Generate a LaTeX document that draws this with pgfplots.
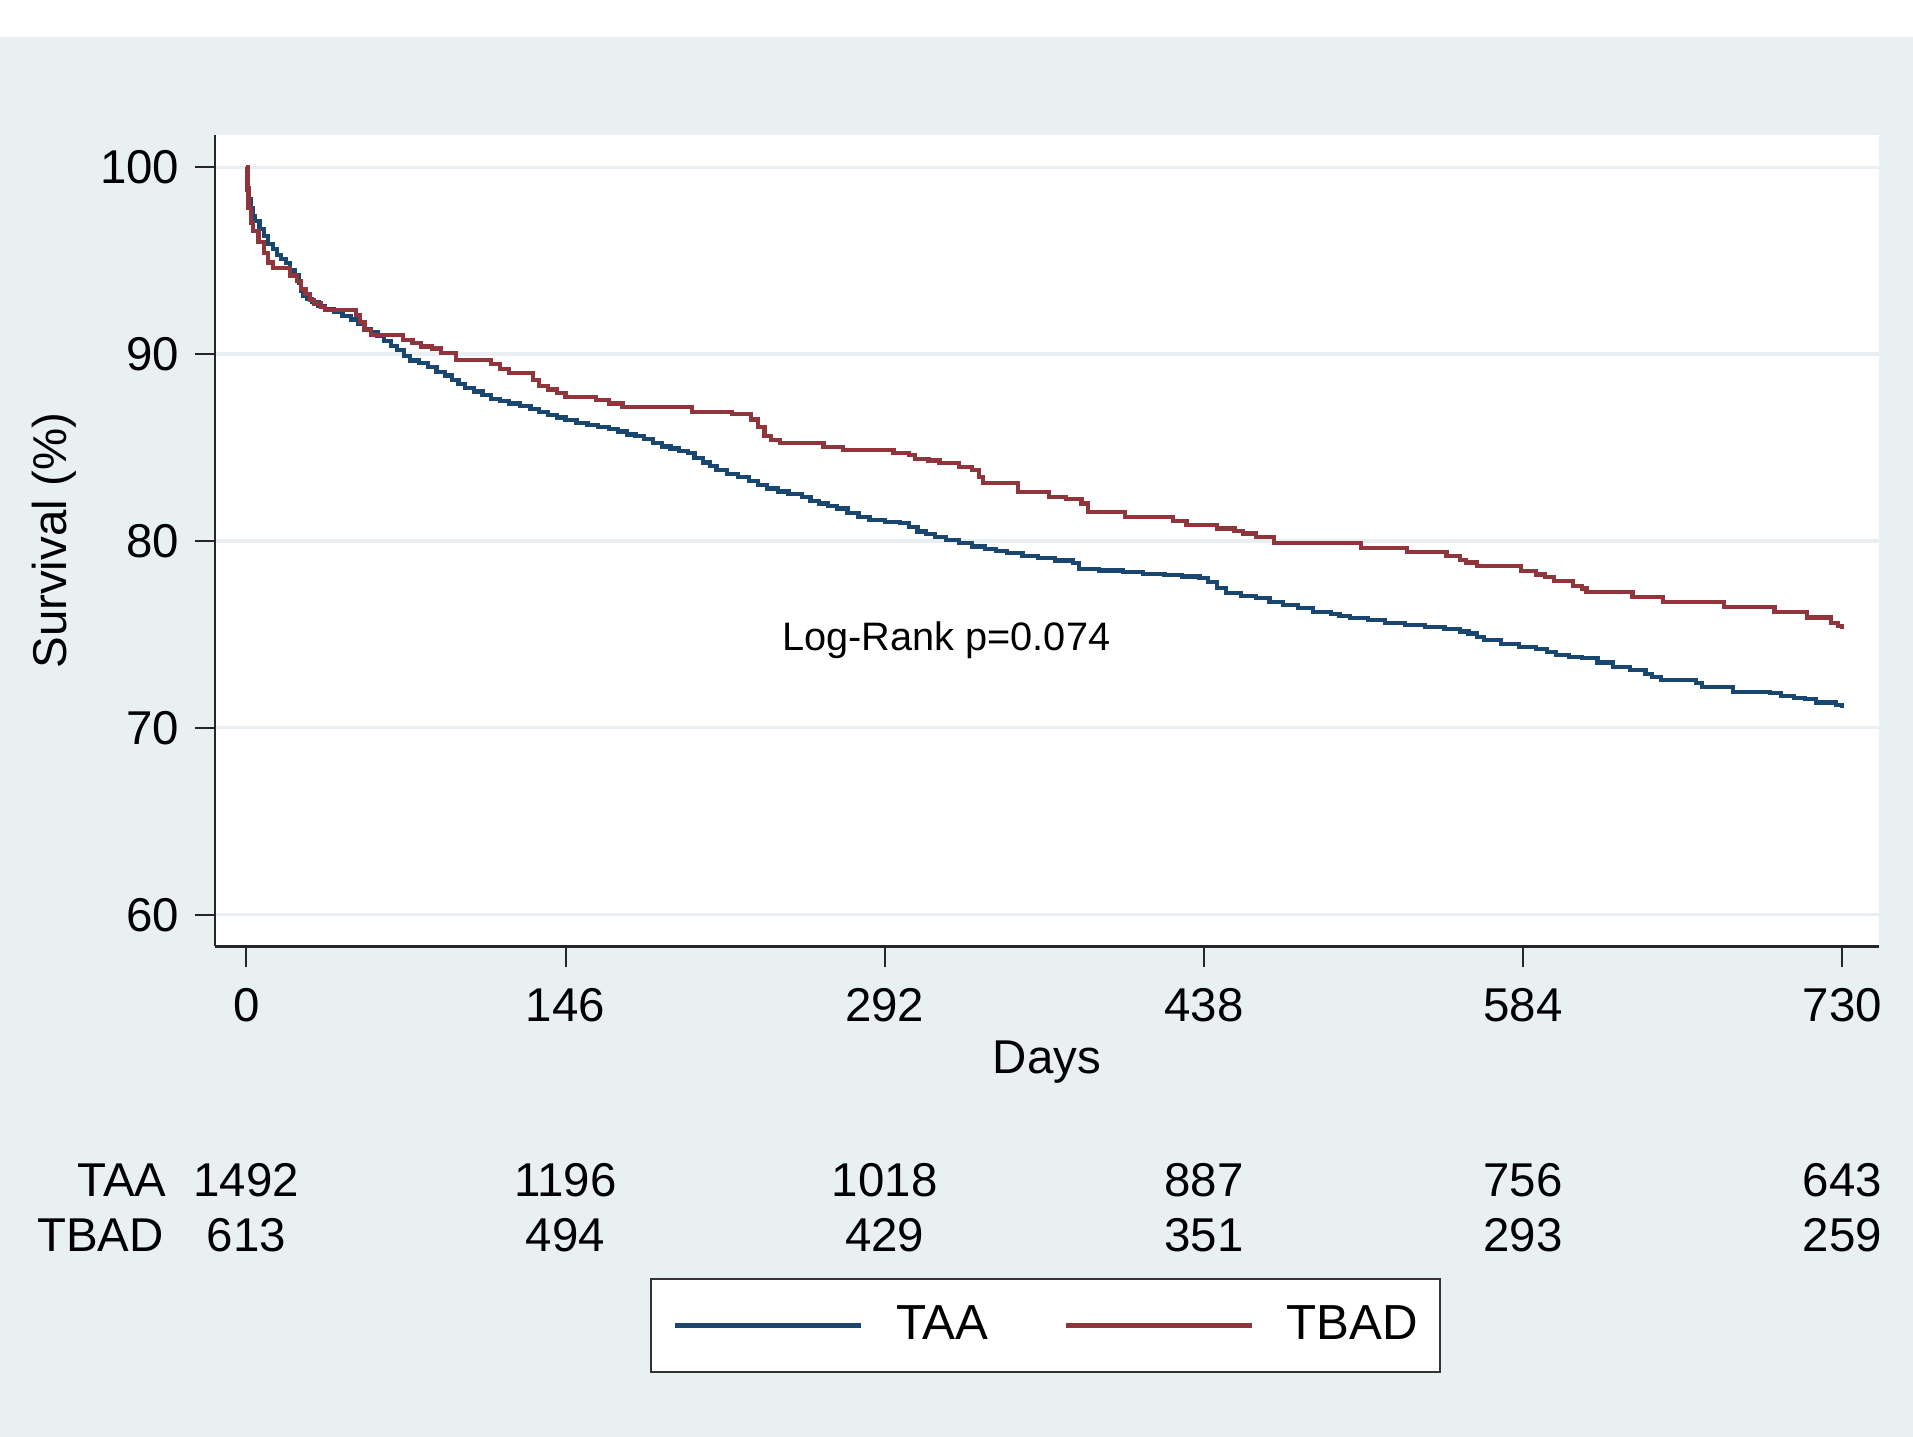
\documentclass[border=0pt]{standalone}
\usepackage{fontspec}
\setmainfont{Liberation Sans}
\usepackage{pgfplots}
\pgfplotsset{compat=1.18}
\usepackage{pgfplotstable}
\definecolor{bgcol}{RGB}{232,240,242}
\definecolor{taablue}{RGB}{26,71,111}
\definecolor{tbadred}{RGB}{144,53,59}
\definecolor{gridcol}{RGB}{232,238,241}

\pgfplotstableread{
day surv
0 100
0.5 98.9
1 98.3
2 97.8
3 97.4
4 97.1
6 96.7
8 96.3
10 95.9
12 95.6
14 95.3
16 95.1
18 94.85
20 94.5
22 94.2
24 93.8
25 93.4
26 93.1
28 92.95
30 92.8
33 92.55
36 92.4
40 92.25
44 92.05
48 91.85
51 91.6
54 91.35
57 91.15
60 90.95
63 90.7
66 90.45
69 90.2
72 89.9
75 89.65
79 89.5
83 89.3
87 89.05
91 88.85
94 88.6
97 88.4
100 88.2
104 88.0
108 87.8
112 87.6
116 87.5
120 87.35
125 87.2
130 87.05
134 86.9
138 86.75
142 86.6
146 86.45
151 86.3
156 86.2
161 86.1
166 86.0
170 85.85
174 85.7
178 85.6
182 85.45
186 85.25
190 85.05
194 84.95
198 84.8
202 84.7
205 84.42
209 84.2
212 84.0
215 83.8
220 83.6
225 83.44
230 83.2
234 83.0
238 82.8
243 82.65
248 82.5
254 82.35
258 82.15
262 82.0
266 81.85
270 81.74
275 81.5
280 81.3
285 81.1
292 81.0
299 80.94
303 80.75
307 80.5
311 80.35
315 80.2
320 80.05
326 79.9
332 79.7
338 79.55
343 79.45
348 79.34
355 79.2
362 79.07
370 78.95
378 78.8
381 78.5
390 78.42
401 78.35
410 78.25
420 78.18
428 78.1
436 78.0
440 77.8
444 77.5
448 77.2
455 77.05
462 76.93
468 76.75
474 76.57
481 76.4
488 76.2
496 76.1
500 76.0
505 75.86
513 75.75
521 75.62
530 75.5
539 75.41
548 75.3
555 75.15
559 75.05
563 74.85
566 74.7
574 74.5
582 74.34
590 74.2
595 74.05
599 73.9
605 73.8
611 73.72
618 73.5
625 73.24
633 73.1
640 72.9
643 72.7
647 72.56
663 72.4
666 72.2
680 71.93
697 71.85
702 71.7
708 71.6
713 71.53
718 71.35
727 71.22
730 71.04
}\taa

\pgfplotstableread{
day surv
0 100
0.5 98.8
1 97.8
2 97.0
3 96.6
5.5 96.0
8 95.4
10 94.9
12 94.6
20 94.2
23 93.9
25 93.5
27 93.2
29 92.9
31 92.7
34 92.5
36 92.35
50 92.1
52 91.7
54 91.3
57 91.0
71.5 90.75
76 90.6
80 90.4
85 90.3
89 90.05
96 89.7
112 89.45
116 89.2
120 88.97
131 88.6
134 88.3
138 88.1
142 87.9
146 87.7
160 87.54
166 87.35
172 87.18
204 86.9
222 86.79
231 86.5
234 86.1
237 85.6
240 85.4
244 85.25
264 85.04
273 84.86
296 84.72
303 84.6
306 84.4
312 84.3
317 84.15
326 83.95
332 83.8
335 83.4
337 83.08
353 82.63
367 82.36
375 82.25
382 82.0
385 81.56
402 81.3
424 81.08
430 80.85
444 80.67
452 80.55
456 80.4
462 80.2
470 79.9
510 79.64
531 79.42
549 79.19
555 79.0
558 78.85
563 78.66
583 78.41
590 78.2
594 78.05
598 77.87
607 77.6
611 77.45
613 77.28
634 77.0
648 76.75
676 76.48
699 76.18
714 75.9
725 75.6
728 75.45
730 75.3
}\tbad

\begin{document}
\begin{tikzpicture}
\path[use as bounding box] (0,0) rectangle (191.3mm,143.7mm);
\fill[bgcol] (0,0) rectangle (191.3mm,140.0mm);
\fill[white] (0,140.0mm) rectangle (191.3mm,143.7mm);
\begin{axis}[
  at={(21.5mm,49.05mm)}, anchor=south west,
  scale only axis, width=166.4mm, height=81.15mm,
  xmin=-14.36, xmax=746.8, ymin=58.30, ymax=101.72,
  axis x line*=bottom, axis y line*=left,
  axis line style={-, black!85, line width=0.6pt},
  axis background/.style={fill=white},
  clip=false,
  xtick={0,146,292,438,584,730},
  xticklabels={0,146,292,438,584,730},
  ytick={60,70,80,90,100},
  yticklabels={60,70,80,90,100},
  tick align=outside,
  major tick length=2mm,
  tick style={black!85, line width=0.6pt},
  tick label style={font=\fontsize{13.5}{15}\selectfont, inner sep=0pt},
  yticklabel shift=1.5mm,
  xticklabel shift=2.1mm,
  ymajorgrids,
  grid style={gridcol, line width=0.9pt},
  xlabel={Days},
  every axis x label/.style={at={(axis description cs:0.5,0)}, anchor=north, yshift=-9.35mm, inner sep=0pt, font=\fontsize{13.5}{15}\selectfont},
  ylabel={Survival (\%)},
  every axis y label/.style={at={(axis description cs:-0.0895,0.5)}, rotate=90, anchor=base, inner sep=0pt, font=\fontsize{13.5}{15}\selectfont},
  legend columns=2,
  legend style={at={(axis description cs:0.4991,-0.467)}, anchor=center,
    draw=black!80, line width=0.7pt, fill=white,
    font=\fontsize{14}{16}\selectfont,
    inner xsep=2.2mm, inner ysep=2.7mm,
    nodes={inner sep=0pt},
    column sep=3.3mm,
    /tikz/every even column/.append style={column sep=7.5mm}},
  legend image code/.code={\draw[#1] (0mm,0mm) -- (18.6mm,0mm);},
]
\addplot[const plot, taablue, line width=1.2pt] table[x=day,y=surv] {\taa};
\addlegendentry{TAA}
\addplot[const plot, tbadred, line width=1.2pt] table[x=day,y=surv] {\tbad};
\addlegendentry{TBAD}

\node[anchor=base west, font=\fontsize{11.3}{13}\selectfont] at (axis cs:239.5,74.15) {Log-Rank p=0.074};

\begin{scope}[every node/.style={font=\fontsize{13.5}{15}\selectfont, inner sep=0pt}]
\node[anchor=base east] at (axis cs:-36.3,44.9) {TAA};
\node[anchor=base east] at (axis cs:-37.5,42.0) {TBAD};
\node[anchor=base] at (axis cs:0,44.9) {1492};
\node[anchor=base] at (axis cs:146,44.9) {1196};
\node[anchor=base] at (axis cs:292,44.9) {1018};
\node[anchor=base] at (axis cs:438,44.9) {887};
\node[anchor=base] at (axis cs:584,44.9) {756};
\node[anchor=base] at (axis cs:730,44.9) {643};
\node[anchor=base] at (axis cs:0,42.0) {613};
\node[anchor=base] at (axis cs:146,42.0) {494};
\node[anchor=base] at (axis cs:292,42.0) {429};
\node[anchor=base] at (axis cs:438,42.0) {351};
\node[anchor=base] at (axis cs:584,42.0) {293};
\node[anchor=base] at (axis cs:730,42.0) {259};
\end{scope}
\end{axis}
\end{tikzpicture}
\end{document}
